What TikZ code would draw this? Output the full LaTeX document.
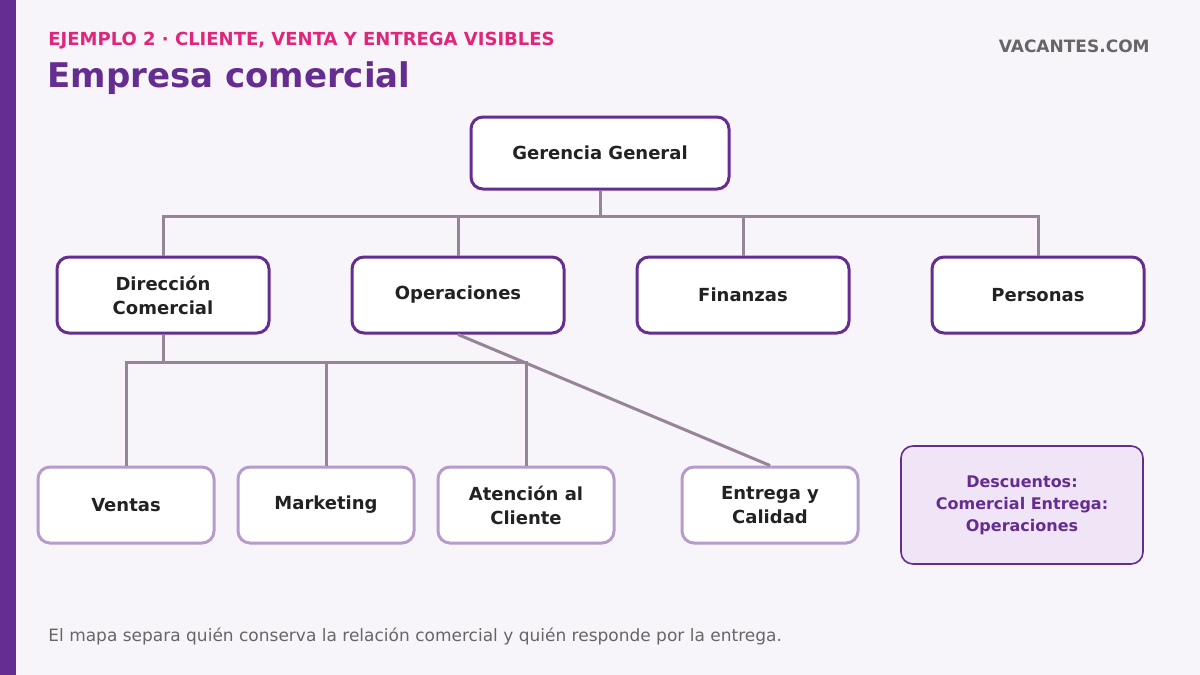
\documentclass[tikz,border=0pt]{standalone}
\usepackage{fontspec}
\setmainfont{DejaVu Sans}
\usetikzlibrary{positioning}
\definecolor{bgcol}{HTML}{F7F4FA}
\definecolor{purp}{HTML}{662D91}
\definecolor{pinkc}{HTML}{E0267A}
\definecolor{linec}{HTML}{968499}
\definecolor{lightb}{HTML}{B69CCB}
\definecolor{notef}{HTML}{F0E4F7}
\definecolor{txt}{HTML}{222222}
\begin{document}
\begin{tikzpicture}[
  x = 0.5pt, y = -0.5pt,
  box/.style = {
    shape = rectangle,
    rounded corners = 6pt,
    draw = purp,
    line width = 1.5pt,
    fill = white,
    align = center,
    text = txt,
    font = \bfseries\fontsize{9}{12}\selectfont,
    inner sep = 0pt,
  },
  top/.style = { box, minimum width = 129pt, minimum height = 36pt },
  mid/.style = { box, minimum width = 106pt, minimum height = 38pt },
  low/.style = { box, draw = lightb, minimum width = 88pt, minimum height = 38pt },
  link/.style = { draw = linec, line width = 1.5pt },
  label/.style = { anchor = west, inner sep = 0pt }
]
  \fill[bgcol] (0, 0) rectangle (1200, 675);
  \fill[purp] (0, 0) rectangle (16, 675);
  \useasboundingbox (0, 0) rectangle (1200, 675);

  \node[label, text = pinkc, font = \bfseries\fontsize{9}{11}\selectfont] (sub) at (48, 41) {EJEMPLO 2 · CLIENTE, VENTA Y ENTREGA VISIBLES};
  \node[label, text = purp, font = \bfseries\fontsize{17}{20}\selectfont] (title) at (47, 78) {Empresa comercial};
  \node[label, anchor = east, text = black!60, font = \bfseries\fontsize{8.5}{10}\selectfont] (brand) at (1150, 46) {VACANTES.COM};
  \node[label, text = black!60, font = \fontsize{8.5}{10}\selectfont] (foot) at (48, 636) {El mapa separa quién conserva la relación comercial y quién responde por la entrega.};

  \node[top] (gg) at (600, 153) {\raisebox{-1pt}{Gerencia General}};

  \node[mid] (dc) at (163, 295) {Dirección\\Comercial};
  \node[mid] (op) at (458, 295) {\raisebox{-1.5pt}{Operaciones}};
  \node[mid] (fi) at (743, 295) {\raisebox{-1pt}{Finanzas}};
  \node[mid] (pe) at (1038, 295) {\raisebox{-1pt}{Personas}};

  \node[low] (ve) at (126, 505) {\raisebox{-1pt}{Ventas}};
  \node[low] (ma) at (326, 505) {\raisebox{-1.5pt}{Marketing}};
  \node[low] (at) at (526, 505) {Atención al\\Cliente};
  \node[low] (en) at (770, 505) {Entrega y\\Calidad};

  \node[box, draw = purp, line width = 0.8pt, fill = notef, text = purp,
        font = \bfseries\fontsize{8}{11}\selectfont,
        minimum width = 121pt, minimum height = 59pt] (note) at (1022, 505)
        {Descuentos:\\Comercial Entrega:\\Operaciones};

  \coordinate (bus1) at (600, 216);
  \coordinate (bus2) at (163, 362);

  \draw[link] (gg.south) -- (bus1);
  \draw[link] (dc.north) |- (bus1) -| (pe.north);
  \draw[link] (op.north) -- (op.north |- bus1);
  \draw[link] (fi.north) -- (fi.north |- bus1);

  \draw[link] (dc.south) -- (bus2);
  \draw[link] (ve.north) |- (bus2) -| (at.north);
  \draw[link] (ma.north) -- (ma.north |- bus2);

  \draw[link] (op.south) -- (en.north);
\end{tikzpicture}
\end{document}
